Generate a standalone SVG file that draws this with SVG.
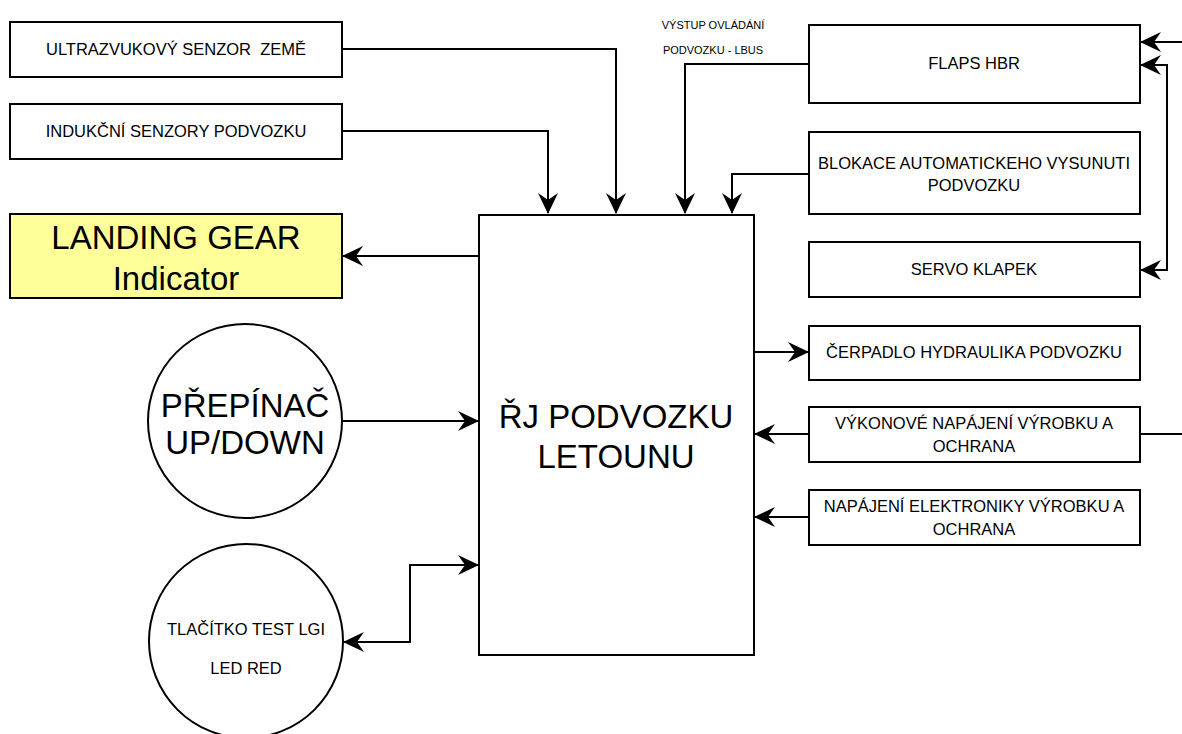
<svg xmlns="http://www.w3.org/2000/svg" width="1182" height="734" viewBox="0 0 1182 734">
<defs>
<marker id="arr" markerWidth="21" markerHeight="20" viewBox="0 0 21 20" refX="20" refY="10" orient="auto-start-reverse" markerUnits="userSpaceOnUse">
<path d="M0,0 L21,10 L0,20 L7,10 Z" fill="#000"/>
</marker>
<style>
.box{fill:#fff;stroke:#000;stroke-width:2}
.t{font-family:"Liberation Sans",Arial,sans-serif;font-size:16.5px;fill:#000;text-anchor:middle;dominant-baseline:central;white-space:pre}
.big{font-size:33px}
.sm{font-size:11px}
.c{fill:none;stroke:#000;stroke-width:2}
</style>
</defs>
<rect width="1182" height="734" fill="#fff"/>
<g id="connectors">
<path class="c" d="M342,49 H616 V213" marker-end="url(#arr)"/>
<path class="c" d="M342,131 H548 V213" marker-end="url(#arr)"/>
<path class="c" d="M809,64 H685 V213" marker-end="url(#arr)"/>
<path class="c" d="M809,174 H732 V213" marker-end="url(#arr)"/>
<path class="c" d="M479,256 H343" marker-end="url(#arr)"/>
<path class="c" d="M342,421 H478" marker-end="url(#arr)"/>
<path class="c" d="M344,642 H410 V565 H478" marker-start="url(#arr)" marker-end="url(#arr)"/>
<path class="c" d="M1182,42 H1141" marker-end="url(#arr)"/>
<path class="c" d="M1141,65 H1167 V270 H1141" marker-start="url(#arr)" marker-end="url(#arr)"/>
<path class="c" d="M754,352 H808" marker-end="url(#arr)"/>
<path class="c" d="M809,434 H755" marker-end="url(#arr)"/>
<path class="c" d="M1140,434 H1182"/>
<path class="c" d="M809,517 H755" marker-end="url(#arr)"/>
<text class="t sm" x="713" y="25">VÝSTUP OVLÁDÁNÍ</text>
<text class="t sm" x="713" y="50">PODVOZKU - LBUS</text>
</g>
<g id="ultrazvuk">
<rect class="box" x="10" y="22" width="332" height="55"/>
<text class="t" x="176" y="49" xml:space="preserve">ULTRAZVUKOVÝ SENZOR  ZEMĚ</text>
</g>
<g id="indukcni">
<rect class="box" x="10" y="104" width="332" height="55"/>
<text class="t" x="176" y="131">INDUKČNÍ SENZORY PODVOZKU</text>
</g>
<g id="landing-gear">
<rect x="10" y="214" width="332" height="84" fill="#FFFF99" stroke="#000" stroke-width="2"/>
<text class="t big" x="176" y="237">LANDING GEAR</text>
<text class="t big" x="176" y="278">Indicator</text>
</g>
<g id="prepinac">
<circle class="box" cx="245" cy="421" r="97"/>
<text class="t big" x="245" y="405">PŘEPÍNAČ</text>
<text class="t big" x="245" y="442">UP/DOWN</text>
</g>
<g id="tlacitko">
<circle class="box" cx="246" cy="641" r="97"/>
<text class="t" x="246" y="629">TLAČÍTKO TEST LGI</text>
<text class="t" x="246" y="668">LED RED</text>
</g>
<g id="main">
<rect class="box" x="479" y="215" width="275" height="440"/>
<text class="t big" x="616" y="416">ŘJ PODVOZKU</text>
<text class="t big" x="616" y="456">LETOUNU</text>
</g>
<g id="flaps">
<rect class="box" x="809" y="25" width="331" height="78"/>
<text class="t" x="974" y="63">FLAPS HBR</text>
</g>
<g id="blokace">
<rect class="box" x="809" y="132" width="331" height="82"/>
<text class="t" x="974" y="163">BLOKACE AUTOMATICKEHO VYSUNUTI</text>
<text class="t" x="974" y="185">PODVOZKU</text>
</g>
<g id="servo">
<rect class="box" x="809" y="242" width="331" height="55"/>
<text class="t" x="974" y="269">SERVO KLAPEK</text>
</g>
<g id="cerpadlo">
<rect class="box" x="809" y="326" width="331" height="54"/>
<text class="t" x="974" y="352">ČERPADLO HYDRAULIKA PODVOZKU</text>
</g>
<g id="vykonove">
<rect class="box" x="809" y="407" width="331" height="55"/>
<text class="t" x="974" y="423">VÝKONOVÉ NAPÁJENÍ VÝROBKU A</text>
<text class="t" x="974" y="446">OCHRANA</text>
</g>
<g id="elektronika">
<rect class="box" x="809" y="490" width="331" height="55"/>
<text class="t" x="974" y="506">NAPÁJENÍ ELEKTRONIKY VÝROBKU A</text>
<text class="t" x="974" y="529">OCHRANA</text>
</g>
</svg>
